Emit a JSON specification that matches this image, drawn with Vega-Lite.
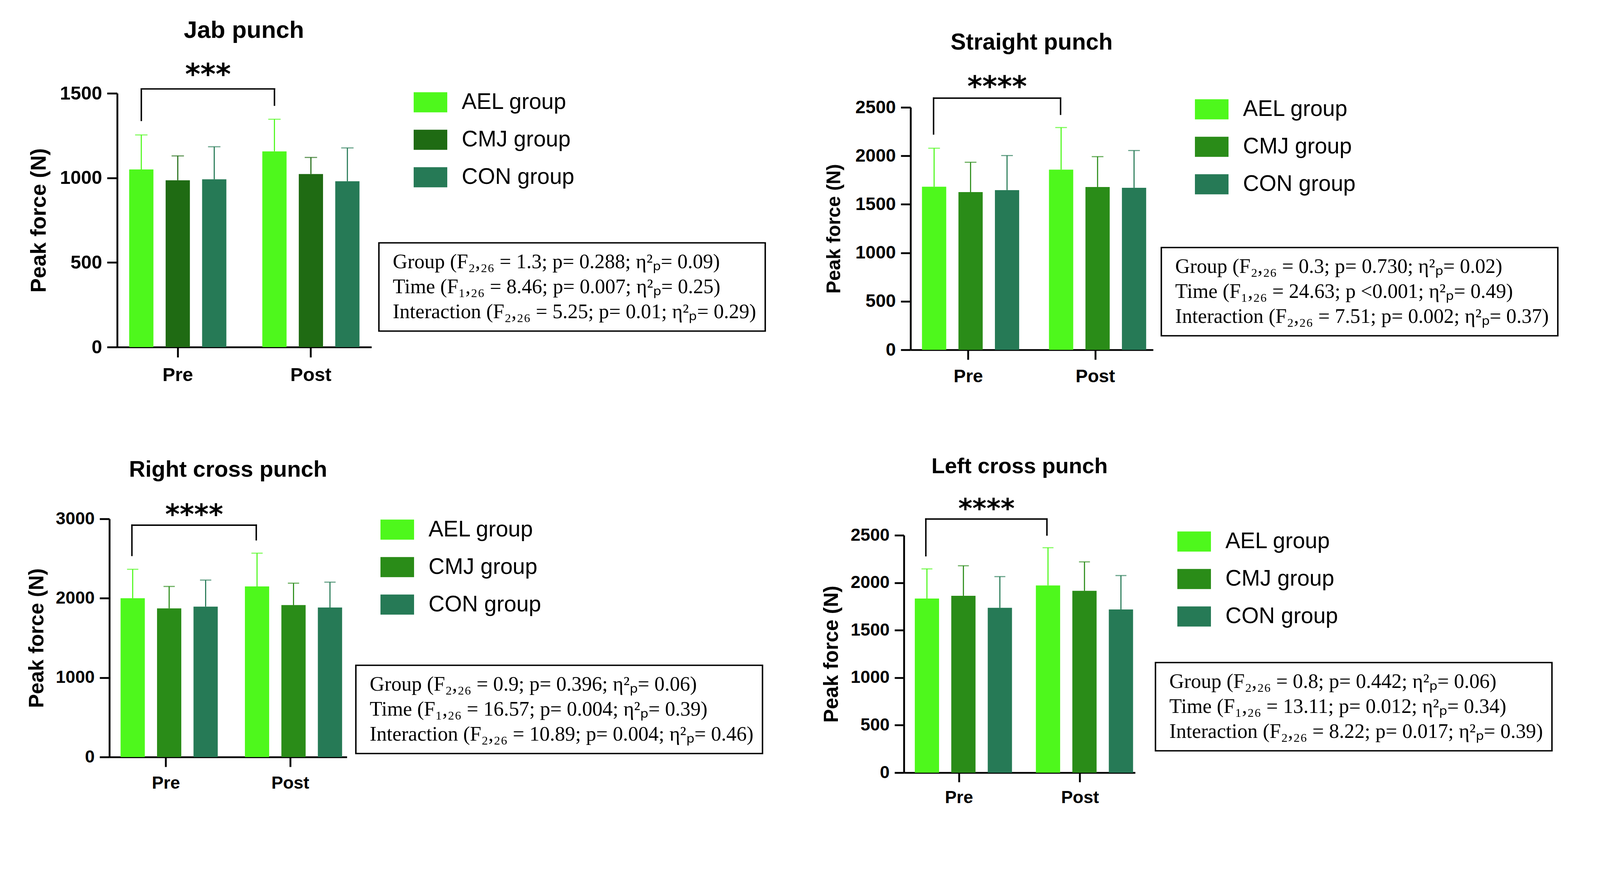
{
  "$schema": "https://vega.github.io/schema/vega-lite/v6.json",
  "background": "white",
  "padding": {"left": 67, "top": 48, "right": 10, "bottom": 10},
  "datasets": {
    "bars": [
      {"punch": "Jab punch", "time": "Pre", "group": "AEL group", "mean": 1050, "upper": 1254},
      {"punch": "Jab punch", "time": "Pre", "group": "CMJ group", "mean": 986, "upper": 1130},
      {"punch": "Jab punch", "time": "Pre", "group": "CON group", "mean": 992, "upper": 1184},
      {"punch": "Jab punch", "time": "Post", "group": "AEL group", "mean": 1157, "upper": 1347},
      {"punch": "Jab punch", "time": "Post", "group": "CMJ group", "mean": 1023, "upper": 1121},
      {"punch": "Jab punch", "time": "Post", "group": "CON group", "mean": 980, "upper": 1177},
      {"punch": "Straight punch", "time": "Pre", "group": "AEL group", "mean": 1682, "upper": 2079},
      {"punch": "Straight punch", "time": "Pre", "group": "CMJ group", "mean": 1626, "upper": 1934},
      {"punch": "Straight punch", "time": "Pre", "group": "CON group", "mean": 1647, "upper": 2003},
      {"punch": "Straight punch", "time": "Post", "group": "AEL group", "mean": 1858, "upper": 2292},
      {"punch": "Straight punch", "time": "Post", "group": "CMJ group", "mean": 1679, "upper": 1992},
      {"punch": "Straight punch", "time": "Post", "group": "CON group", "mean": 1671, "upper": 2055},
      {"punch": "Right cross punch", "time": "Pre", "group": "AEL group", "mean": 2000, "upper": 2365},
      {"punch": "Right cross punch", "time": "Pre", "group": "CMJ group", "mean": 1873, "upper": 2149},
      {"punch": "Right cross punch", "time": "Pre", "group": "CON group", "mean": 1895, "upper": 2229},
      {"punch": "Right cross punch", "time": "Post", "group": "AEL group", "mean": 2149, "upper": 2568},
      {"punch": "Right cross punch", "time": "Post", "group": "CMJ group", "mean": 1914, "upper": 2190},
      {"punch": "Right cross punch", "time": "Post", "group": "CON group", "mean": 1883, "upper": 2203},
      {"punch": "Left cross punch", "time": "Pre", "group": "AEL group", "mean": 1834, "upper": 2146},
      {"punch": "Left cross punch", "time": "Pre", "group": "CMJ group", "mean": 1863, "upper": 2179},
      {"punch": "Left cross punch", "time": "Pre", "group": "CON group", "mean": 1736, "upper": 2065},
      {"punch": "Left cross punch", "time": "Post", "group": "AEL group", "mean": 1972, "upper": 2369},
      {"punch": "Left cross punch", "time": "Post", "group": "CMJ group", "mean": 1915, "upper": 2220},
      {"punch": "Left cross punch", "time": "Post", "group": "CON group", "mean": 1719, "upper": 2076}
    ],
    "sig": [
      {"punch": "Jab punch", "stars": "***", "top": 1526, "left": 1340, "right": 1430, "starBase": 1553},
      {"punch": "Straight punch", "stars": "****", "top": 2595, "left": 2226, "right": 2429, "starBase": 2617},
      {"punch": "Right cross punch", "stars": "****", "top": 2921, "left": 2540, "right": 2737, "starBase": 2936},
      {"punch": "Left cross punch", "stars": "****", "top": 2671, "left": 2285, "right": 2503, "starBase": 2687}
    ],
    "stats": [
      {"punch": "Jab punch", "k": 1, "text": "Group (F₂,₂₆ = 1.3; p= 0.288; η²ₚ= 0.09)"},
      {"punch": "Jab punch", "k": 2, "text": "Time (F₁,₂₆ = 8.46; p= 0.007; η²ₚ= 0.25)"},
      {"punch": "Jab punch", "k": 3, "text": "Interaction (F₂,₂₆ = 5.25; p= 0.01; η²ₚ= 0.29)"},
      {"punch": "Straight punch", "k": 1, "text": "Group (F₂,₂₆ = 0.3; p= 0.730; η²ₚ= 0.02)"},
      {"punch": "Straight punch", "k": 2, "text": "Time (F₁,₂₆ = 24.63; p <0.001; η²ₚ= 0.49)"},
      {"punch": "Straight punch", "k": 3, "text": "Interaction (F₂,₂₆ = 7.51; p= 0.002; η²ₚ= 0.37)"},
      {"punch": "Right cross punch", "k": 1, "text": "Group (F₂,₂₆ = 0.9; p= 0.396; η²ₚ= 0.06)"},
      {"punch": "Right cross punch", "k": 2, "text": "Time (F₁,₂₆ = 16.57; p= 0.004; η²ₚ= 0.39)"},
      {"punch": "Right cross punch", "k": 3, "text": "Interaction (F₂,₂₆ = 10.89; p= 0.004; η²ₚ= 0.46)"},
      {"punch": "Left cross punch", "k": 1, "text": "Group (F₂,₂₆ = 0.8; p= 0.442; η²ₚ= 0.06)"},
      {"punch": "Left cross punch", "k": 2, "text": "Time (F₁,₂₆ = 13.11; p= 0.012; η²ₚ= 0.34)"},
      {"punch": "Left cross punch", "k": 3, "text": "Interaction (F₂,₂₆ = 8.22; p= 0.017; η²ₚ= 0.39)"}
    ]
  },
  "spacing": 141,
  "resolve": {"scale": {"color": "independent", "shape": "independent"}, "legend": {"color": "independent", "shape": "independent"}},
  "hconcat": [
    {
      "vconcat": [
        {
          "width": 671, "height": 650,
          "title": {"text": "Jab punch", "fontSize": 61.6, "offset": 46, "dx": 9, "frame": "group"},
          "layer": [
            {
              "data": {"name": "bars"},
              "transform": [{"filter": {"field": "punch", "equal": "Jab punch"}}],
              "mark": {"type": "bar"},
              "encoding": {
                "x": {"field": "time", "type": "nominal", "title": null,
                  "scale": {"domain": ["Pre", "Post"], "range": [20, 671], "paddingInner": 0.27, "paddingOuter": 0.09},
                  "axis": {"labelAngle": 0, "labelFontSize": 48.5, "labelPadding": 22, "tickSize": 26, "bandPosition": 0.5}},
                "xOffset": {"field": "group", "type": "nominal", "scale": {"domain": ["AEL group", "CMJ group", "CON group"], "paddingInner": 0.335, "paddingOuter": 0}},
                "y": {"field": "mean", "type": "quantitative", "title": "Peak force (N)",
                  "scale": {"domain": [0, 1500], "nice": false},
                  "axis": {"values": [0, 500, 1000, 1500], "format": "d", "labelFontSize": 48.5, "titleFontSize": 55, "titlePadding": 25, "labelPadding": 13, "tickSize": 26, "offset": -20}},
                "color": {"field": "group", "type": "nominal",
                  "scale": {"domain": ["AEL group", "CMJ group", "CON group"], "range": ["#4EF81C", "#1F6B13", "#267A56"]},
                  "legend": {"orient": "none", "legendX": 779, "legendY": -20, "title": null, "symbolType": "M-1,-0.6H1V0.6H-1Z", "symbolSize": 7396, "symbolStrokeWidth": 0, "labelFont": "Liberation Sans", "labelFontSize": 57, "labelColor": "black", "labelOffset": 37, "rowPadding": 25, "padding": 0, "labelLimit": 0}}
              }
            },
            {
              "data": {"name": "bars"},
              "transform": [{"filter": {"field": "punch", "equal": "Jab punch"}}],
              "mark": {"type": "rule", "strokeWidth": 2.8},
              "encoding": {
                "x": {"field": "time", "type": "nominal", "title": null},
                "xOffset": {"field": "group", "type": "nominal"},
                "y": {"field": "mean", "type": "quantitative", "title": "Peak force (N)"},
                "y2": {"field": "upper"},
                "color": {"field": "group", "type": "nominal", "legend": null}
              }
            },
            {
              "data": {"name": "bars"},
              "transform": [{"filter": {"field": "punch", "equal": "Jab punch"}}],
              "mark": {"type": "tick", "orient": "horizontal", "thickness": 2.8, "size": 31.7},
              "encoding": {
                "x": {"field": "time", "type": "nominal", "title": null},
                "xOffset": {"field": "group", "type": "nominal"},
                "y": {"field": "upper", "type": "quantitative", "title": "Peak force (N)"},
                "color": {"field": "group", "type": "nominal", "legend": null}
              }
            },
            {
              "data": {"name": "sig"},
              "transform": [{"filter": {"field": "punch", "equal": "Jab punch"}}],
              "mark": {"type": "rule", "strokeWidth": 3.7, "color": "black", "strokeCap": "square"},
              "encoding": {
                "x": {"datum": "Pre", "type": "nominal", "bandPosition": 0.125, "title": null},
                "x2": {"datum": "Post", "bandPosition": 0.125},
                "y": {"field": "top", "type": "quantitative", "title": "Peak force (N)"}
              }
            },
            {
              "data": {"name": "sig"},
              "transform": [{"filter": {"field": "punch", "equal": "Jab punch"}}],
              "mark": {"type": "rule", "strokeWidth": 3.7, "color": "black", "strokeCap": "square"},
              "encoding": {
                "x": {"datum": "Pre", "type": "nominal", "bandPosition": 0.125, "title": null},
                "y": {"field": "left", "type": "quantitative", "title": "Peak force (N)"},
                "y2": {"field": "top"}
              }
            },
            {
              "data": {"name": "sig"},
              "transform": [{"filter": {"field": "punch", "equal": "Jab punch"}}],
              "mark": {"type": "rule", "strokeWidth": 3.7, "color": "black", "strokeCap": "square"},
              "encoding": {
                "x": {"datum": "Post", "type": "nominal", "bandPosition": 0.125, "title": null},
                "y": {"field": "right", "type": "quantitative", "title": "Peak force (N)"},
                "y2": {"field": "top"}
              }
            },
            {
              "data": {"name": "sig"},
              "transform": [{"filter": {"field": "punch", "equal": "Jab punch"}}],
              "mark": {"type": "text", "font": "DejaVu Sans", "fontWeight": "bold", "fontSize": 74.6, "baseline": "alphabetic", "align": "center", "color": "black"},
              "encoding": {
                "x": {"datum": "Pre", "type": "nominal", "bandPosition": 0.811, "title": null},
                "y": {"field": "starBase", "type": "quantitative", "title": "Peak force (N)"},
                "text": {"field": "stars"}
              }
            },
            {
              "data": {"name": "stats"},
              "transform": [{"filter": {"field": "punch", "equal": "Jab punch"}}],
              "mark": {"type": "point", "opacity": 0},
              "encoding": {
                "shape": {"field": "text", "type": "nominal", "sort": {"field": "k", "op": "min"},
                  "legend": {"orient": "none", "legendX": 690, "legendY": 383, "title": null, "strokeColor": "black", "padding": 22.4, "symbolSize": 0, "symbolOpacity": 0, "symbolStrokeWidth": 0, "labelOffset": -39, "labelFont": "Liberation Serif", "labelFontSize": 52.2, "labelColor": "black", "rowPadding": 11.2, "labelLimit": 0}}
              }
            }
          ]
        },
        {
          "width": 608, "height": 610,
          "title": {"text": "Right cross punch", "fontSize": 57.8, "offset": 52, "frame": "group"},
          "layer": [
            {
              "data": {"name": "bars"},
              "transform": [{"filter": {"field": "punch", "equal": "Right cross punch"}}],
              "mark": {"type": "bar"},
              "encoding": {
                "x": {"field": "time", "type": "nominal", "title": null,
                  "scale": {"domain": ["Pre", "Post"], "paddingInner": 0.27, "paddingOuter": 0.09},
                  "axis": {"labelAngle": 0, "labelFontSize": 44.8, "labelPadding": 20.5, "tickSize": 25, "bandPosition": 0.5}},
                "xOffset": {"field": "group", "type": "nominal", "scale": {"domain": ["AEL group", "CMJ group", "CON group"], "paddingInner": 0.335, "paddingOuter": 0}},
                "y": {"field": "mean", "type": "quantitative", "title": "Peak force (N)",
                  "scale": {"domain": [0, 3000], "nice": false},
                  "axis": {"values": [0, 1000, 2000, 3000], "format": "d", "labelFontSize": 44.8, "titleFontSize": 53.2, "titlePadding": 20.5, "labelPadding": 13, "tickSize": 25}},
                "color": {"field": "group", "type": "nominal",
                  "scale": {"domain": ["AEL group", "CMJ group", "CON group"], "range": ["#4EF81C", "#2A8C18", "#267A56"]},
                  "legend": {"orient": "none", "legendX": 694, "legendY": -15.5, "title": null, "symbolType": "M-1,-0.6H1V0.6H-1Z", "symbolSize": 7396, "symbolStrokeWidth": 0, "labelFont": "Liberation Sans", "labelFontSize": 57, "labelColor": "black", "labelOffset": 37, "rowPadding": 25, "padding": 0, "labelLimit": 0}}
              }
            },
            {
              "data": {"name": "bars"},
              "transform": [{"filter": {"field": "punch", "equal": "Right cross punch"}}],
              "mark": {"type": "rule", "strokeWidth": 2.8},
              "encoding": {
                "x": {"field": "time", "type": "nominal", "title": null},
                "xOffset": {"field": "group", "type": "nominal"},
                "y": {"field": "mean", "type": "quantitative", "title": "Peak force (N)"},
                "y2": {"field": "upper"},
                "color": {"field": "group", "type": "nominal", "legend": null}
              }
            },
            {
              "data": {"name": "bars"},
              "transform": [{"filter": {"field": "punch", "equal": "Right cross punch"}}],
              "mark": {"type": "tick", "orient": "horizontal", "thickness": 2.8, "size": 28.9},
              "encoding": {
                "x": {"field": "time", "type": "nominal", "title": null},
                "xOffset": {"field": "group", "type": "nominal"},
                "y": {"field": "upper", "type": "quantitative", "title": "Peak force (N)"},
                "color": {"field": "group", "type": "nominal", "legend": null}
              }
            },
            {
              "data": {"name": "sig"},
              "transform": [{"filter": {"field": "punch", "equal": "Right cross punch"}}],
              "mark": {"type": "rule", "strokeWidth": 3.7, "color": "black", "strokeCap": "square"},
              "encoding": {
                "x": {"datum": "Pre", "type": "nominal", "bandPosition": 0.125, "title": null},
                "x2": {"datum": "Post", "bandPosition": 0.125},
                "y": {"field": "top", "type": "quantitative", "title": "Peak force (N)"}
              }
            },
            {
              "data": {"name": "sig"},
              "transform": [{"filter": {"field": "punch", "equal": "Right cross punch"}}],
              "mark": {"type": "rule", "strokeWidth": 3.7, "color": "black", "strokeCap": "square"},
              "encoding": {
                "x": {"datum": "Pre", "type": "nominal", "bandPosition": 0.125, "title": null},
                "y": {"field": "left", "type": "quantitative", "title": "Peak force (N)"},
                "y2": {"field": "top"}
              }
            },
            {
              "data": {"name": "sig"},
              "transform": [{"filter": {"field": "punch", "equal": "Right cross punch"}}],
              "mark": {"type": "rule", "strokeWidth": 3.7, "color": "black", "strokeCap": "square"},
              "encoding": {
                "x": {"datum": "Post", "type": "nominal", "bandPosition": 0.125, "title": null},
                "y": {"field": "right", "type": "quantitative", "title": "Peak force (N)"},
                "y2": {"field": "top"}
              }
            },
            {
              "data": {"name": "sig"},
              "transform": [{"filter": {"field": "punch", "equal": "Right cross punch"}}],
              "mark": {"type": "text", "font": "DejaVu Sans", "fontWeight": "bold", "fontSize": 70.9, "baseline": "alphabetic", "align": "center", "color": "black"},
              "encoding": {
                "x": {"datum": "Pre", "type": "nominal", "bandPosition": 0.811, "title": null},
                "y": {"field": "starBase", "type": "quantitative", "title": "Peak force (N)"},
                "text": {"field": "stars"}
              }
            },
            {
              "data": {"name": "stats"},
              "transform": [{"filter": {"field": "punch", "equal": "Right cross punch"}}],
              "mark": {"type": "point", "opacity": 0},
              "encoding": {
                "shape": {"field": "text", "type": "nominal", "sort": {"field": "k", "op": "min"},
                  "legend": {"orient": "none", "legendX": 631, "legendY": 375, "title": null, "strokeColor": "black", "padding": 22.4, "symbolSize": 0, "symbolOpacity": 0, "symbolStrokeWidth": 0, "labelOffset": -39, "labelFont": "Liberation Serif", "labelFontSize": 52.2, "labelColor": "black", "rowPadding": 11.2, "labelLimit": 0}}
              }
            }
          ]
        }
      ],
      "spacing": 440,
      "bounds": "flush",
      "resolve": {"scale": {"color": "independent", "shape": "independent"}, "legend": {"color": "independent", "shape": "independent"}}
    },
    {
      "vconcat": [
        {
          "width": 638, "height": 657,
          "title": {"text": "Straight punch", "fontSize": 58.8, "offset": 48, "dx": 8, "frame": "group"},
          "layer": [
            {
              "data": {"name": "bars"},
              "transform": [{"filter": {"field": "punch", "equal": "Straight punch"}}],
              "mark": {"type": "bar"},
              "encoding": {
                "x": {"field": "time", "type": "nominal", "title": null,
                  "scale": {"domain": ["Pre", "Post"], "range": [17, 638], "paddingInner": 0.27, "paddingOuter": 0.09},
                  "axis": {"labelAngle": 0, "labelFontSize": 46.6, "labelPadding": 20.5, "tickSize": 25, "bandPosition": 0.5}},
                "xOffset": {"field": "group", "type": "nominal", "scale": {"domain": ["AEL group", "CMJ group", "CON group"], "paddingInner": 0.335, "paddingOuter": 0}},
                "y": {"field": "mean", "type": "quantitative", "title": "Peak force (N)",
                  "scale": {"domain": [0, 2500], "nice": false, "range": [657, 36]},
                  "axis": {"values": [0, 500, 1000, 1500, 2000, 2500], "format": "d", "labelFontSize": 46.6, "titleFontSize": 49.4, "titlePadding": 29, "labelPadding": 13, "tickSize": 25, "offset": -17}},
                "color": {"field": "group", "type": "nominal",
                  "scale": {"domain": ["AEL group", "CMJ group", "CON group"], "range": ["#4EF81C", "#2A8C18", "#267A56"]},
                  "legend": {"orient": "none", "legendX": 745, "legendY": -2, "title": null, "symbolType": "M-1,-0.6H1V0.6H-1Z", "symbolSize": 7396, "symbolStrokeWidth": 0, "labelFont": "Liberation Sans", "labelFontSize": 57, "labelColor": "black", "labelOffset": 37, "rowPadding": 25, "padding": 0, "labelLimit": 0}}
              }
            },
            {
              "data": {"name": "bars"},
              "transform": [{"filter": {"field": "punch", "equal": "Straight punch"}}],
              "mark": {"type": "rule", "strokeWidth": 2.8},
              "encoding": {
                "x": {"field": "time", "type": "nominal", "title": null},
                "xOffset": {"field": "group", "type": "nominal"},
                "y": {"field": "mean", "type": "quantitative", "title": "Peak force (N)"},
                "y2": {"field": "upper"},
                "color": {"field": "group", "type": "nominal", "legend": null}
              }
            },
            {
              "data": {"name": "bars"},
              "transform": [{"filter": {"field": "punch", "equal": "Straight punch"}}],
              "mark": {"type": "tick", "orient": "horizontal", "thickness": 2.8, "size": 29.9},
              "encoding": {
                "x": {"field": "time", "type": "nominal", "title": null},
                "xOffset": {"field": "group", "type": "nominal"},
                "y": {"field": "upper", "type": "quantitative", "title": "Peak force (N)"},
                "color": {"field": "group", "type": "nominal", "legend": null}
              }
            },
            {
              "data": {"name": "sig"},
              "transform": [{"filter": {"field": "punch", "equal": "Straight punch"}}],
              "mark": {"type": "rule", "strokeWidth": 3.7, "color": "black", "strokeCap": "square"},
              "encoding": {
                "x": {"datum": "Pre", "type": "nominal", "bandPosition": 0.125, "title": null},
                "x2": {"datum": "Post", "bandPosition": 0.125},
                "y": {"field": "top", "type": "quantitative", "title": "Peak force (N)"}
              }
            },
            {
              "data": {"name": "sig"},
              "transform": [{"filter": {"field": "punch", "equal": "Straight punch"}}],
              "mark": {"type": "rule", "strokeWidth": 3.7, "color": "black", "strokeCap": "square"},
              "encoding": {
                "x": {"datum": "Pre", "type": "nominal", "bandPosition": 0.125, "title": null},
                "y": {"field": "left", "type": "quantitative", "title": "Peak force (N)"},
                "y2": {"field": "top"}
              }
            },
            {
              "data": {"name": "sig"},
              "transform": [{"filter": {"field": "punch", "equal": "Straight punch"}}],
              "mark": {"type": "rule", "strokeWidth": 3.7, "color": "black", "strokeCap": "square"},
              "encoding": {
                "x": {"datum": "Post", "type": "nominal", "bandPosition": 0.125, "title": null},
                "y": {"field": "right", "type": "quantitative", "title": "Peak force (N)"},
                "y2": {"field": "top"}
              }
            },
            {
              "data": {"name": "sig"},
              "transform": [{"filter": {"field": "punch", "equal": "Straight punch"}}],
              "mark": {"type": "text", "font": "DejaVu Sans", "fontWeight": "bold", "fontSize": 72.8, "baseline": "alphabetic", "align": "center", "color": "black"},
              "encoding": {
                "x": {"datum": "Pre", "type": "nominal", "bandPosition": 0.811, "title": null},
                "y": {"field": "starBase", "type": "quantitative", "title": "Peak force (N)"},
                "text": {"field": "stars"}
              }
            },
            {
              "data": {"name": "stats"},
              "transform": [{"filter": {"field": "punch", "equal": "Straight punch"}}],
              "mark": {"type": "point", "opacity": 0},
              "encoding": {
                "shape": {"field": "text", "type": "nominal", "sort": {"field": "k", "op": "min"},
                  "legend": {"orient": "none", "legendX": 659, "legendY": 395, "title": null, "strokeColor": "black", "padding": 22.4, "symbolSize": 0, "symbolOpacity": 0, "symbolStrokeWidth": 0, "labelOffset": -39, "labelFont": "Liberation Serif", "labelFontSize": 52.2, "labelColor": "black", "rowPadding": 11.2, "labelLimit": 0}}
              }
            }
          ]
        },
        {
          "width": 592, "height": 608,
          "title": {"text": "Left cross punch", "fontSize": 56, "offset": 46.5, "frame": "group"},
          "layer": [
            {
              "data": {"name": "bars"},
              "transform": [{"filter": {"field": "punch", "equal": "Left cross punch"}}],
              "mark": {"type": "bar"},
              "encoding": {
                "x": {"field": "time", "type": "nominal", "title": null,
                  "scale": {"domain": ["Pre", "Post"], "paddingInner": 0.27, "paddingOuter": 0.09},
                  "axis": {"labelAngle": 0, "labelFontSize": 44.8, "labelPadding": 18, "tickSize": 24, "bandPosition": 0.5}},
                "xOffset": {"field": "group", "type": "nominal", "scale": {"domain": ["AEL group", "CMJ group", "CON group"], "paddingInner": 0.335, "paddingOuter": 0}},
                "y": {"field": "mean", "type": "quantitative", "title": "Peak force (N)",
                  "scale": {"domain": [0, 2500], "nice": false},
                  "axis": {"values": [0, 500, 1000, 1500, 2000, 2500], "format": "d", "labelFontSize": 44.8, "titleFontSize": 52.2, "titlePadding": 21.5, "labelPadding": 13, "tickSize": 24}},
                "color": {"field": "group", "type": "nominal",
                  "scale": {"domain": ["AEL group", "CMJ group", "CON group"], "range": ["#4EF81C", "#2A8C18", "#267A56"]},
                  "legend": {"orient": "none", "legendX": 700, "legendY": -27, "title": null, "symbolType": "M-1,-0.6H1V0.6H-1Z", "symbolSize": 7396, "symbolStrokeWidth": 0, "labelFont": "Liberation Sans", "labelFontSize": 57, "labelColor": "black", "labelOffset": 37, "rowPadding": 25, "padding": 0, "labelLimit": 0}}
              }
            },
            {
              "data": {"name": "bars"},
              "transform": [{"filter": {"field": "punch", "equal": "Left cross punch"}}],
              "mark": {"type": "rule", "strokeWidth": 2.8},
              "encoding": {
                "x": {"field": "time", "type": "nominal", "title": null},
                "xOffset": {"field": "group", "type": "nominal"},
                "y": {"field": "mean", "type": "quantitative", "title": "Peak force (N)"},
                "y2": {"field": "upper"},
                "color": {"field": "group", "type": "nominal", "legend": null}
              }
            },
            {
              "data": {"name": "bars"},
              "transform": [{"filter": {"field": "punch", "equal": "Left cross punch"}}],
              "mark": {"type": "tick", "orient": "horizontal", "thickness": 2.8, "size": 28},
              "encoding": {
                "x": {"field": "time", "type": "nominal", "title": null},
                "xOffset": {"field": "group", "type": "nominal"},
                "y": {"field": "upper", "type": "quantitative", "title": "Peak force (N)"},
                "color": {"field": "group", "type": "nominal", "legend": null}
              }
            },
            {
              "data": {"name": "sig"},
              "transform": [{"filter": {"field": "punch", "equal": "Left cross punch"}}],
              "mark": {"type": "rule", "strokeWidth": 3.7, "color": "black", "strokeCap": "square"},
              "encoding": {
                "x": {"datum": "Pre", "type": "nominal", "bandPosition": 0.125, "title": null},
                "x2": {"datum": "Post", "bandPosition": 0.125},
                "y": {"field": "top", "type": "quantitative", "title": "Peak force (N)"}
              }
            },
            {
              "data": {"name": "sig"},
              "transform": [{"filter": {"field": "punch", "equal": "Left cross punch"}}],
              "mark": {"type": "rule", "strokeWidth": 3.7, "color": "black", "strokeCap": "square"},
              "encoding": {
                "x": {"datum": "Pre", "type": "nominal", "bandPosition": 0.125, "title": null},
                "y": {"field": "left", "type": "quantitative", "title": "Peak force (N)"},
                "y2": {"field": "top"}
              }
            },
            {
              "data": {"name": "sig"},
              "transform": [{"filter": {"field": "punch", "equal": "Left cross punch"}}],
              "mark": {"type": "rule", "strokeWidth": 3.7, "color": "black", "strokeCap": "square"},
              "encoding": {
                "x": {"datum": "Post", "type": "nominal", "bandPosition": 0.125, "title": null},
                "y": {"field": "right", "type": "quantitative", "title": "Peak force (N)"},
                "y2": {"field": "top"}
              }
            },
            {
              "data": {"name": "sig"},
              "transform": [{"filter": {"field": "punch", "equal": "Left cross punch"}}],
              "mark": {"type": "text", "font": "DejaVu Sans", "fontWeight": "bold", "fontSize": 69, "baseline": "alphabetic", "align": "center", "color": "black"},
              "encoding": {
                "x": {"datum": "Pre", "type": "nominal", "bandPosition": 0.811, "title": null},
                "y": {"field": "starBase", "type": "quantitative", "title": "Peak force (N)"},
                "text": {"field": "stars"}
              }
            },
            {
              "data": {"name": "stats"},
              "transform": [{"filter": {"field": "punch", "equal": "Left cross punch"}}],
              "mark": {"type": "point", "opacity": 0},
              "encoding": {
                "shape": {"field": "text", "type": "nominal", "sort": {"field": "k", "op": "min"},
                  "legend": {"orient": "none", "legendX": 644, "legendY": 326, "title": null, "strokeColor": "black", "padding": 22.4, "symbolSize": 0, "symbolOpacity": 0, "symbolStrokeWidth": 0, "labelOffset": -39, "labelFont": "Liberation Serif", "labelFontSize": 52.2, "labelColor": "black", "rowPadding": 11.2, "labelLimit": 0}}
              }
            }
          ]
        }
      ],
      "spacing": 475,
      "bounds": "flush",
      "resolve": {"scale": {"color": "independent", "shape": "independent"}, "legend": {"color": "independent", "shape": "independent"}}
    }
  ],
  "config": {
    "view": {"stroke": null},
    "font": "Liberation Sans",
    "legend": {"strokeWidth": 3.7},
    "axis": {"domainColor": "black", "domainWidth": 4.7, "tickColor": "black", "tickWidth": 4.7, "labelColor": "black", "labelFont": "Liberation Sans", "labelFontWeight": "bold", "titleColor": "black", "titleFont": "Liberation Sans", "titleFontWeight": "bold", "grid": false},
    "title": {"font": "Liberation Sans", "fontWeight": "bold", "color": "black", "baseline": "bottom"}
  }
}
